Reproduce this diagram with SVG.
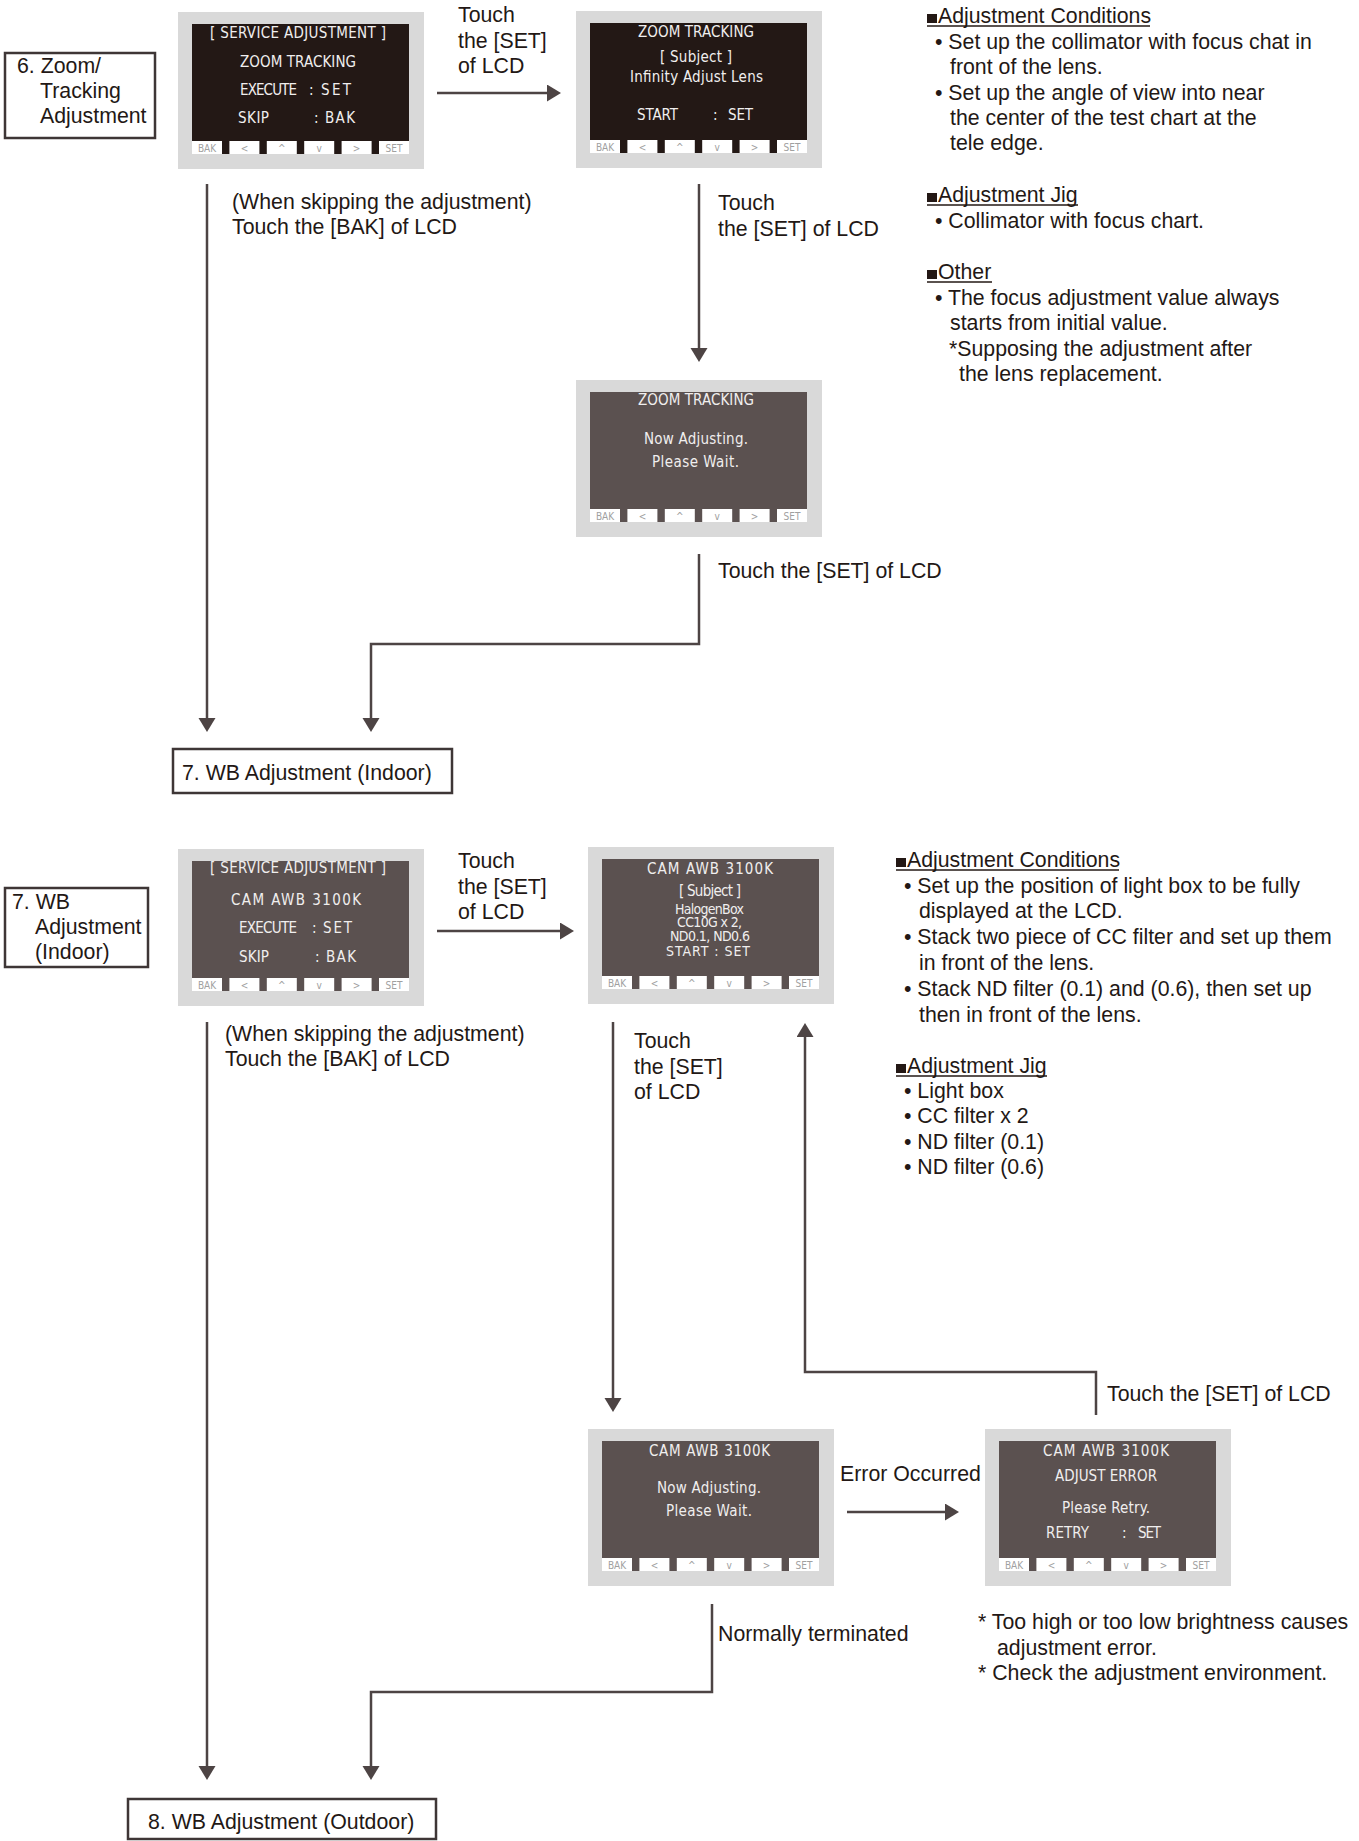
<svg xmlns="http://www.w3.org/2000/svg" xmlns:xlink="http://www.w3.org/1999/xlink" width="1359" height="1841" viewBox="0 0 1359 1841">
<style>
.lbl{font-family:"Liberation Sans",Arial,sans-serif;font-size:21.3px;fill:#231815}
.scr{font-family:"Liberation Sans Narrow","DejaVu Sans Condensed","Roboto Condensed","Liberation Sans",sans-serif;font-size:15px;fill:#f0eeee}
.scrs{font-family:"Liberation Sans Narrow","DejaVu Sans Condensed","Roboto Condensed","Liberation Sans",sans-serif;font-size:14px;fill:#f0eeee}
.btn{font-family:"Liberation Sans Narrow","DejaVu Sans Condensed","Liberation Sans",sans-serif;font-size:10px;fill:#a0a0a0;text-anchor:middle}
.box{fill:#fff;stroke:#3e3636;stroke-width:2.5}
.conn{fill:none;stroke:#4d4444;stroke-width:2.5}
.ul{stroke:#231815;stroke-width:1.5}
</style>
<defs>
<marker id="ah" markerUnits="userSpaceOnUse" markerWidth="16" markerHeight="18" refX="1" refY="8.5" orient="auto">
<path d="M0,0 L14,8.5 L0,17 z" fill="#4d4444"/>
</marker>
<g id="btns">
<rect x="14" y="129" width="30" height="13" fill="#fff"/>
<rect x="51.4" y="129" width="30" height="13" fill="#fff"/>
<rect x="88.8" y="129" width="30" height="13" fill="#fff"/>
<rect x="126.2" y="129" width="30" height="13" fill="#fff"/>
<rect x="163.6" y="129" width="30" height="13" fill="#fff"/>
<rect x="201" y="129" width="30" height="13" fill="#fff"/>
<text class="btn" x="29" y="139.5">BAK</text>
<text class="btn" x="66.4" y="139.5">&lt;</text>
<text class="btn" x="103.8" y="139.5">^</text>
<text class="btn" x="141.2" y="139.5">v</text>
<text class="btn" x="178.6" y="139.5">&gt;</text>
<text class="btn" x="216" y="139.5">SET</text>
</g>
<g id="lcdK">
<rect x="0" y="0" width="246" height="157" fill="#d9d9d9"/>
<rect x="14" y="12" width="217" height="130" fill="#231815"/>
<use xlink:href="#btns"/>
</g>
<g id="lcdB">
<rect x="0" y="0" width="246" height="157" fill="#d9d9d9"/>
<rect x="14" y="12" width="217" height="130" fill="#5b5150"/>
<use xlink:href="#btns"/>
</g>
</defs>
<rect width="1359" height="1841" fill="#fff"/>

<g id="connectors">
<path class="conn" d="M437,93 H548" marker-end="url(#ah)"/>
<path class="conn" d="M207,184 V719" marker-end="url(#ah)"/>
<path class="conn" d="M699,184 V349" marker-end="url(#ah)"/>
<path class="conn" d="M699,554 V644 H371 V719" marker-end="url(#ah)"/>
<path class="conn" d="M437,931 H561" marker-end="url(#ah)"/>
<path class="conn" d="M207,1022 V1767" marker-end="url(#ah)"/>
<path class="conn" d="M613,1022 V1399" marker-end="url(#ah)"/>
<path class="conn" d="M712,1604 V1692 H371 V1767" marker-end="url(#ah)"/>
<path class="conn" d="M847,1512 H946" marker-end="url(#ah)"/>
<path class="conn" d="M1096,1415 V1372 H805 V1036" marker-end="url(#ah)"/>
</g>

<g id="connector-labels">
<text class="lbl" x="458" y="22">Touch</text>
<text class="lbl" x="458" y="48">the [SET]</text>
<text class="lbl" x="458" y="73">of LCD</text>
<text class="lbl" x="232" y="209">(When skipping the adjustment)</text>
<text class="lbl" x="232" y="234">Touch the [BAK] of LCD</text>
<text class="lbl" x="718" y="210">Touch</text>
<text class="lbl" x="718" y="236">the [SET] of LCD</text>
<text class="lbl" x="718" y="578">Touch the [SET] of LCD</text>
<text class="lbl" x="458" y="868">Touch</text>
<text class="lbl" x="458" y="894">the [SET]</text>
<text class="lbl" x="458" y="919">of LCD</text>
<text class="lbl" x="225" y="1041">(When skipping the adjustment)</text>
<text class="lbl" x="225" y="1066">Touch the [BAK] of LCD</text>
<text class="lbl" x="634" y="1048">Touch</text>
<text class="lbl" x="634" y="1074">the [SET]</text>
<text class="lbl" x="634" y="1099">of LCD</text>
<text class="lbl" x="1107" y="1401">Touch the [SET] of LCD</text>
<text class="lbl" x="840" y="1481">Error Occurred</text>
<text class="lbl" x="718" y="1641">Normally terminated</text>
</g>

<g id="step6">
<rect class="box" x="5" y="53" width="150" height="85"/>
<text class="lbl" x="17" y="73">6. Zoom/</text>
<text class="lbl" x="40" y="98">Tracking</text>
<text class="lbl" x="40" y="123">Adjustment</text>
</g>

<g id="lcd1">
<use xlink:href="#lcdK" x="178" y="12"/>
<text class="scr" x="210" y="38" textLength="176">[ SERVICE  ADJUSTMENT ]</text>
<text class="scr" x="240" y="67" textLength="116">ZOOM TRACKING</text>
<text class="scr" x="240" y="95" textLength="57">EXECUTE</text>
<text class="scr" x="309" y="95">:</text>
<text class="scr" x="321" y="95" textLength="30">SET</text>
<text class="scr" x="238" y="123" textLength="31">SKIP</text>
<text class="scr" x="314" y="123">:</text>
<text class="scr" x="325" y="123" textLength="30">BAK</text>
</g>

<g id="lcd2">
<use xlink:href="#lcdK" x="576" y="11"/>
<text class="scr" x="638" y="37" textLength="116">ZOOM TRACKING</text>
<text class="scr" x="660" y="62" textLength="72">[ Subject ]</text>
<text class="scr" x="630" y="82" textLength="133">Infinity Adjust Lens</text>
<text class="scr" x="637" y="120" textLength="41">START</text>
<text class="scr" x="713" y="120">:</text>
<text class="scr" x="728" y="120" textLength="25">SET</text>
</g>

<g id="lcd3">
<use xlink:href="#lcdB" x="576" y="380"/>
<text class="scr" x="638" y="405" textLength="116">ZOOM TRACKING</text>
<text class="scr" x="644" y="444" textLength="104">Now Adjusting.</text>
<text class="scr" x="652" y="467" textLength="87">Please Wait.</text>
</g>

<g id="step7">
<rect class="box" x="173" y="749" width="279" height="44"/>
<text class="lbl" x="182" y="780">7. WB Adjustment (Indoor)</text>
</g>

<g id="notes1">
<rect x="927" y="14" width="10" height="9" fill="#231815"/>
<text class="lbl" x="938" y="23">Adjustment Conditions</text>
<line class="ul" x1="927" y1="26" x2="1150" y2="26"/>
<text class="lbl" x="935" y="49">• Set up the collimator with focus chat in</text>
<text class="lbl" x="950" y="74">front of the lens.</text>
<text class="lbl" x="935" y="100">• Set up the angle of view into near</text>
<text class="lbl" x="950" y="125">the center of the test chart at the</text>
<text class="lbl" x="950" y="150">tele edge.</text>
<rect x="927" y="193" width="10" height="9" fill="#231815"/>
<text class="lbl" x="938" y="202">Adjustment Jig</text>
<line class="ul" x1="927" y1="205" x2="1078" y2="205"/>
<text class="lbl" x="935" y="228">• Collimator with focus chart.</text>
<rect x="927" y="270" width="10" height="9" fill="#231815"/>
<text class="lbl" x="938" y="279">Other</text>
<line class="ul" x1="927" y1="282" x2="992" y2="282"/>
<text class="lbl" x="935" y="305">• The focus adjustment value always</text>
<text class="lbl" x="950" y="330">starts from initial value.</text>
<text class="lbl" x="949" y="356">*Supposing the adjustment after</text>
<text class="lbl" x="959" y="381">the lens replacement.</text>
</g>

<g id="step7wb">
<rect class="box" x="5" y="888" width="143" height="79"/>
<text class="lbl" x="12" y="909">7. WB</text>
<text class="lbl" x="35" y="934">Adjustment</text>
<text class="lbl" x="35" y="959">(Indoor)</text>
</g>

<g id="lcdA">
<use xlink:href="#lcdB" x="178" y="849"/>
<text class="scr" x="210" y="873" textLength="176">[ SERVICE  ADJUSTMENT ]</text>
<text class="scr" x="231" y="905" textLength="130">CAM  AWB  3100K</text>
<text class="scr" x="239" y="933" textLength="58">EXECUTE</text>
<text class="scr" x="312" y="933">:</text>
<text class="scr" x="323" y="933" textLength="29">SET</text>
<text class="scr" x="239" y="962" textLength="30">SKIP</text>
<text class="scr" x="315" y="962">:</text>
<text class="scr" x="326" y="962" textLength="30">BAK</text>
</g>

<g id="lcdB1">
<use xlink:href="#lcdB" x="588" y="847"/>
<text class="scr" x="647" y="874" textLength="126">CAM  AWB  3100K</text>
<text class="scr" x="679" y="896" textLength="62">[ Subject ]</text>
<text class="scrs" x="675" y="914" textLength="69">HalogenBox</text>
<text class="scrs" x="677" y="927" textLength="65">CC10G x 2,</text>
<text class="scrs" x="670" y="941" textLength="80">ND0.1, ND0.6</text>
<text class="scrs" x="666" y="956" textLength="84">START   :  SET</text>
</g>

<g id="notes2">
<rect x="896" y="858" width="10" height="9" fill="#231815"/>
<text class="lbl" x="907" y="867">Adjustment Conditions</text>
<line class="ul" x1="896" y1="870" x2="1119" y2="870"/>
<text class="lbl" x="904" y="893">• Set up the position of light box to be fully</text>
<text class="lbl" x="919" y="918">displayed at the LCD.</text>
<text class="lbl" x="904" y="944">• Stack two piece of CC filter and set up them</text>
<text class="lbl" x="919" y="970">in front of the lens.</text>
<text class="lbl" x="904" y="996">• Stack ND filter (0.1) and (0.6), then set up</text>
<text class="lbl" x="919" y="1022">then in front of the lens.</text>
<rect x="896" y="1064" width="10" height="9" fill="#231815"/>
<text class="lbl" x="907" y="1073">Adjustment Jig</text>
<line class="ul" x1="896" y1="1076" x2="1047" y2="1076"/>
<text class="lbl" x="904" y="1098">• Light box</text>
<text class="lbl" x="904" y="1123">• CC filter x 2</text>
<text class="lbl" x="904" y="1149">• ND filter (0.1)</text>
<text class="lbl" x="904" y="1174">• ND filter (0.6)</text>
</g>

<g id="lcdC">
<use xlink:href="#lcdB" x="588" y="1429"/>
<text class="scr" x="649" y="1456" textLength="121">CAM  AWB 3100K</text>
<text class="scr" x="657" y="1493" textLength="104">Now Adjusting.</text>
<text class="scr" x="666" y="1516" textLength="86">Please Wait.</text>
</g>

<g id="lcdD">
<use xlink:href="#lcdB" x="985" y="1429"/>
<text class="scr" x="1043" y="1456" textLength="126">CAM  AWB  3100K</text>
<text class="scr" x="1055" y="1481" textLength="102">ADJUST ERROR</text>
<text class="scr" x="1062" y="1513" textLength="88">Please Retry.</text>
<text class="scr" x="1046" y="1538" textLength="43">RETRY</text>
<text class="scr" x="1122" y="1538">:</text>
<text class="scr" x="1138" y="1538" textLength="23">SET</text>
</g>

<g id="notes3">
<text class="lbl" x="978" y="1629">* Too high or too low brightness causes</text>
<text class="lbl" x="997" y="1655">adjustment error.</text>
<text class="lbl" x="978" y="1680">* Check the adjustment environment.</text>
</g>

<g id="step8">
<rect class="box" x="128" y="1799" width="308" height="40"/>
<text class="lbl" x="148" y="1829">8. WB Adjustment (Outdoor)</text>
</g>
</svg>
